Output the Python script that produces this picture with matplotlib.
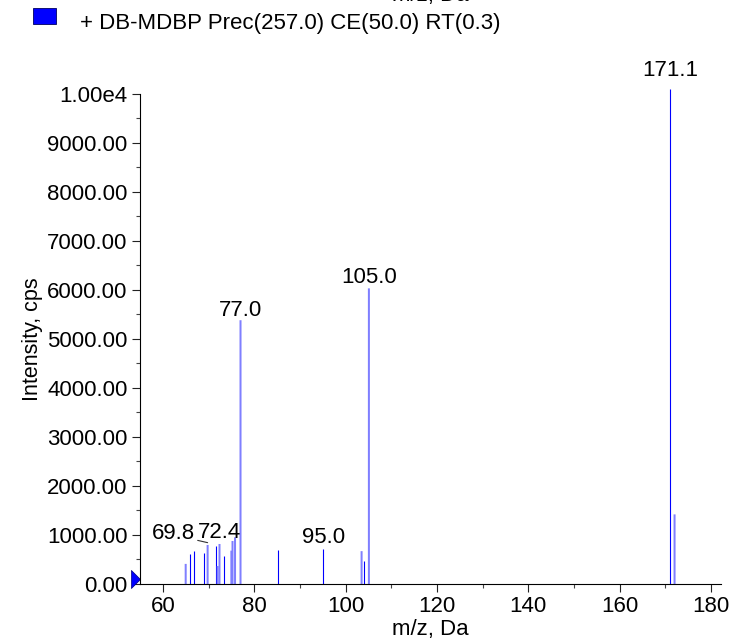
import matplotlib
matplotlib.use("Agg")
import matplotlib.pyplot as plt
from matplotlib.patches import Rectangle
from matplotlib.path import Path
from matplotlib.ticker import MultipleLocator, FixedLocator, FuncFormatter

# ---- data ----
mz = [65.0, 66.05, 66.9, 68.9, 69.8, 71.6, 72.0, 72.4, 73.3, 75.0, 75.25, 75.8,
      77.0, 85.1, 95.1, 103.5, 104.0, 105.1, 171.1, 172.0]
intensity = [410, 606, 667, 640, 796, 776, 367, 816, 571, 680, 877, 952,
             5380, 690, 705, 670, 463, 6030, 10100, 1420]
# rendering shade of each stick (1 = crisp dark, 0 = soft light)
crisp = [0, 1, 1, 1, 0, 1, 0, 0, 1, 0, 0, 0, 0, 1, 1, 0, 1, 0, 1, 0]

label_text = ["77.0", "105.0", "95.0", "171.1", "72.4"]
label_mz = [77.0, 105.1, 95.1, 171.1, 72.4]
label_int = [5380, 6030, 705, 10100, 816]

y_ticks = [0, 1000, 2000, 3000, 4000, 5000, 6000, 7000, 8000, 9000, 10000]
x_ticks = [60, 80, 100, 120, 140, 160, 180]

legend_text = "+ DB-MDBP Prec(257.0) CE(50.0) RT(0.3)"

# ---- figure ----
W, H = 731, 641
plt.rcParams['font.family'] = ['Liberation Sans', 'DejaVu Sans']
fig = plt.figure(figsize=(W / 100, H / 100), dpi=100)
ax = fig.add_axes([140 / W, 57 / H, (720.7 - 140) / W, (584 - 93.7) / H])

FS = 16

for x, y, c in zip(mz, intensity, crisp):
    if c:
        ax.plot([x, x], [0, y], color='#0000ff', lw=0.8, solid_capstyle='butt', clip_on=False)
    else:
        ax.plot([x, x], [0, y], color='#7f7fff', lw=1.44, solid_capstyle='butt', clip_on=False,
                snap=False)

ax.set_xlim(55, 182.1)
ax.set_ylim(0, 10000)

for sp in ['top', 'right']:
    ax.spines[sp].set_visible(False)
for sp in ['left', 'bottom']:
    ax.spines[sp].set_linewidth(0.8)
    ax.spines[sp].set_color('black')

ax.yaxis.set_major_locator(FixedLocator(y_ticks))
ax.yaxis.set_minor_locator(MultipleLocator(500))
ax.xaxis.set_major_locator(FixedLocator(x_ticks))
ax.xaxis.set_minor_locator(MultipleLocator(10))

def yfmt(v, pos):
    if v >= 10000:
        return "1.00e4"
    return f"{v:.2f}"
ax.yaxis.set_major_formatter(FuncFormatter(yfmt))

ax.tick_params(axis='both', which='major', direction='out', length=6, width=0.8,
               color='#222222', labelsize=FS, pad=3)
ax.tick_params(axis='both', which='minor', direction='out', length=3, width=0.8,
               color='#444444')

ax.set_xlabel("m/z, Da", fontsize=FS, labelpad=1)
ax.set_ylabel("Intensity, cps", fontsize=FS - 0.5, labelpad=3)

# peak labels
offsets_pt = {"77.0": 3, "105.0": 4, "95.0": 4.5, "171.1": 9, "72.4": 4}
for t, x, y in zip(label_text, label_mz, label_int):
    ax.annotate(t, xy=(x, y), xytext=(0, offsets_pt[t]), textcoords='offset points',
                ha='center', va='baseline', fontsize=FS, annotation_clip=False)

# displaced label with leader line for 69.8
ax.annotate("69.8", xy=(69.8, 843), xytext=(62.3, 919), textcoords='data',
            ha='center', va='baseline', fontsize=FS,
            arrowprops=dict(arrowstyle='-', color='#333333', lw=0.8,
                            shrinkA=0, shrinkB=0,
                            relpos=(1.0, 0.2)))

# blue triangle marker at origin
tri = Path([(-1, -1), (0, 0), (-1, 1), (-1, -1)],
           [Path.MOVETO, Path.LINETO, Path.LINETO, Path.CLOSEPOLY])
ax.plot([55], [100], marker=tri, markersize=13, color='#0000ff',
        markeredgecolor='#000080', markeredgewidth=0.5, clip_on=False, ls='none')

# legend box and text
fig.patches.append(Rectangle((33 / W, 1 - 23.7 / H), 23 / W, 15.4 / H,
                             transform=fig.transFigure, facecolor='#0000ff',
                             edgecolor='#000060', lw=0.6))
fig.text(80 / W, 1 - 29 / H, legend_text, fontsize=FS, ha='left', va='baseline')

# clipped axis title from a panel above (only its lower edge shows)
fig.text(430 / W, 1 - 1.5 / H, "m/z, Da", fontsize=FS, ha='center', va='baseline')

fig.savefig("out.png", dpi=100)
